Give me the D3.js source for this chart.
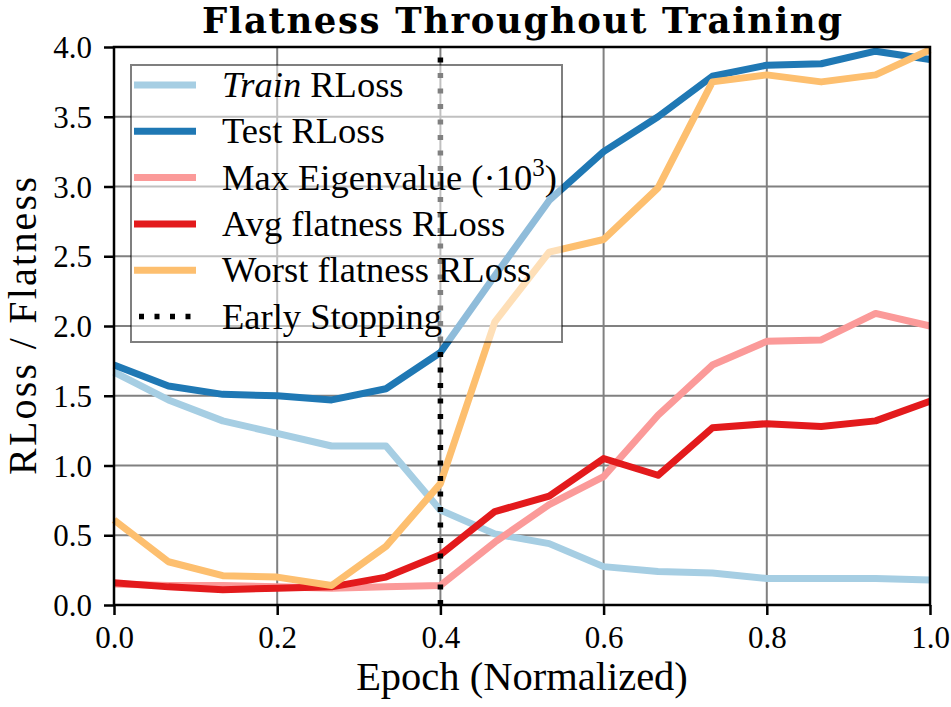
<!DOCTYPE html>
<html>
<head>
<meta charset="utf-8">
<script src="https://cdn.jsdelivr.net/npm/d3@7"></script>
<style>
  body { margin: 0; background: white; }
  svg { display: block; }
</style>
</head>
<body>
<svg id="chart"></svg>
<script>
const epochs = [0, 0.0667, 0.1333, 0.2, 0.2667, 0.3333, 0.4, 0.4667, 0.5333, 0.6, 0.6667, 0.7333, 0.8, 0.8667, 0.9333, 1.0]
const trainRLoss = [1.67, 1.47, 1.32, 1.23, 1.14, 1.14, 0.68, 0.51, 0.44, 0.275, 0.24, 0.23, 0.19, 0.19, 0.19, 0.18]
const testRLoss = [1.72, 1.57, 1.51, 1.50, 1.47, 1.55, 1.81, 2.36, 2.90, 3.25, 3.50, 3.79, 3.87, 3.88, 3.97, 3.91]
const maxEigen = [0.15, 0.14, 0.14, 0.13, 0.12, 0.13, 0.14, 0.45, 0.72, 0.92, 1.36, 1.72, 1.89, 1.90, 2.09, 2.00]
const avgFlatness = [0.16, 0.13, 0.11, 0.12, 0.13, 0.20, 0.36, 0.67, 0.78, 1.05, 0.93, 1.27, 1.30, 1.28, 1.32, 1.46]
const worstFlatness = [0.61, 0.31, 0.21, 0.20, 0.14, 0.42, 0.87, 2.03, 2.53, 2.62, 2.99, 3.75, 3.80, 3.75, 3.80, 3.98]
const earlyStop = 0.4
const xTicks = [0, 0.2, 0.4, 0.6, 0.8, 1.0]
const yTicks = [0, 0.5, 1.0, 1.5, 2.0, 2.5, 3.0, 3.5, 4.0]

const series = [
    {key: "train", values: trainRLoss, color: "#a6cee3"},
    {key: "test", values: testRLoss, color: "#1f78b4"},
    {key: "eigen", values: maxEigen, color: "#fb9a99"},
    {key: "avg", values: avgFlatness, color: "#e31a1c"},
    {key: "worst", values: worstFlatness, color: "#fdbf6f"}
]

const serif = "'Liberation Serif', 'Times New Roman', serif"
const width = 951, height = 707
const margin = ({top: 47, right: 21, bottom: 102, left: 114})

const svg = d3.select("#chart")
    .attr("width", width)
    .attr("height", height)
    .attr("viewBox", [0, 0, width, height])

const x = d3.scaleLinear()
    .domain([0, 1])
    .range([margin.left, width - margin.right])

const y = d3.scaleLinear()
    .domain([0, 4])
    .range([height - margin.bottom, margin.top])

// grid
svg.append("g")
    .attr("stroke", "#808080")
    .attr("stroke-width", 2)
    .call(g => g.selectAll(".gx").data(xTicks).join("line")
        .attr("x1", d => x(d)).attr("x2", d => x(d))
        .attr("y1", y(0)).attr("y2", y(4)))
    .call(g => g.selectAll(".gy").data(yTicks).join("line")
        .attr("y1", d => y(d)).attr("y2", d => y(d))
        .attr("x1", x(0)).attr("x2", x(1)))

const line = d3.line()
    .x((d, i) => x(epochs[i]))
    .y(d => y(d))

svg.append("g")
    .attr("fill", "none")
    .attr("stroke-width", 7)
    .attr("stroke-linejoin", "round")
    .attr("stroke-linecap", "butt")
    .selectAll("path")
    .data(series)
    .join("path")
    .attr("stroke", d => d.color)
    .attr("d", d => line(d.values))

svg.append("line")
    .attr("x1", x(earlyStop)).attr("x2", x(earlyStop))
    .attr("y1", y(0)).attr("y2", y(4))
    .attr("stroke", "black")
    .attr("stroke-width", 5.5)
    .attr("stroke-dasharray", "5,10.5")

// axes
const xAxis = g => g
    .attr("transform", `translate(0,${y(0)})`)
    .call(d3.axisBottom(x).tickValues(xTicks).tickFormat(d3.format(".1f")).tickSizeOuter(0).tickSize(10).tickPadding(11))
    .call(g => g.select(".domain").remove())
    .call(g => g.selectAll(".tick line").attr("stroke-width", 2.5))
    .call(g => g.selectAll(".tick text").style("font-family", serif).style("font-size", "31px"))

const yAxis = g => g
    .attr("transform", `translate(${x(0)},0)`)
    .call(d3.axisLeft(y).tickValues(yTicks).tickFormat(d3.format(".1f")).tickSizeOuter(0).tickSize(10).tickPadding(12))
    .call(g => g.select(".domain").remove())
    .call(g => g.selectAll(".tick line").attr("stroke-width", 2.5))
    .call(g => g.selectAll(".tick text").attr("dy", "0.34em")
        .style("font-family", serif).style("font-size", "31px"))

svg.append("g").call(xAxis)
svg.append("g").call(yAxis)

svg.append("rect")
    .attr("x", x(0)).attr("y", y(4))
    .attr("width", x(1) - x(0)).attr("height", y(0) - y(4))
    .attr("fill", "none")
    .attr("stroke", "black")
    .attr("stroke-width", 2.5)

// legend
const legend = svg.append("g").attr("transform", "translate(131,65)")
legend.append("rect")
    .attr("width", 431).attr("height", 277)
    .attr("fill", "white").attr("fill-opacity", 0.5)
    .attr("stroke", "black").attr("stroke-opacity", 0.5)
    .attr("stroke-width", 2)

const rowY = i => 20 + i * 46.3
legend.selectAll(".lh")
    .data(series)
    .join("line")
    .attr("x1", 3).attr("x2", 65)
    .attr("y1", (d, i) => rowY(i)).attr("y2", (d, i) => rowY(i))
    .attr("stroke", d => d.color)
    .attr("stroke-width", 7)

legend.append("line")
    .attr("x1", 8).attr("x2", 62)
    .attr("y1", rowY(5)).attr("y2", rowY(5))
    .attr("stroke", "black")
    .attr("stroke-width", 5.5)
    .attr("stroke-dasharray", "5,10.5")

const labels = legend.append("g").attr("fill", "black")

const t0 = labels.append("text").attr("x", 91).attr("y", rowY(0) + 12)
t0.append("tspan").style("font-style", "italic").text("Train")
t0.append("tspan").text(" RLoss")
labels.append("text").attr("x", 91).attr("y", rowY(1) + 12).text("Test RLoss")
const t2 = labels.append("text").attr("x", 91).attr("y", rowY(2) + 12)
t2.append("tspan").text("Max Eigenvalue (·10")
t2.append("tspan").attr("class", "sup").attr("dy", -14).text("3")
t2.append("tspan").attr("dy", 14).text(")")
labels.append("text").attr("x", 91).attr("y", rowY(3) + 12).text("Avg flatness RLoss")
labels.append("text").attr("x", 91).attr("y", rowY(4) + 12).text("Worst flatness RLoss")
labels.append("text").attr("x", 91).attr("y", rowY(5) + 12).text("Early Stopping")
labels.selectAll("text")
    .style("font-family", serif)
    .style("font-size", "36.5px")
t2.select(".sup").style("font-size", "25px")

// titles
svg.append("text")
    .attr("x", (x(0) + x(1)) / 2)
    .attr("y", 33)
    .attr("text-anchor", "middle")
    .attr("textLength", 640)
    .attr("lengthAdjust", "spacing")
    .style("font-family", "'DejaVu Serif', serif")
    .style("font-weight", "bold")
    .style("font-size", "35.5px")
    .text("Flatness Throughout Training")

svg.append("text")
    .attr("x", (x(0) + x(1)) / 2)
    .attr("y", 690)
    .attr("text-anchor", "middle")
    .style("font-family", serif)
    .style("font-size", "40.5px")
    .text("Epoch (Normalized)")

svg.append("text")
    .attr("transform", `translate(35.5,${(y(0) + y(4)) / 2}) rotate(-90)`)
    .attr("text-anchor", "middle")
    .attr("textLength", 298)
    .attr("lengthAdjust", "spacing")
    .style("font-family", serif)
    .style("font-size", "40px")
    .text("RLoss / Flatness")
</script>
</body>
</html>
